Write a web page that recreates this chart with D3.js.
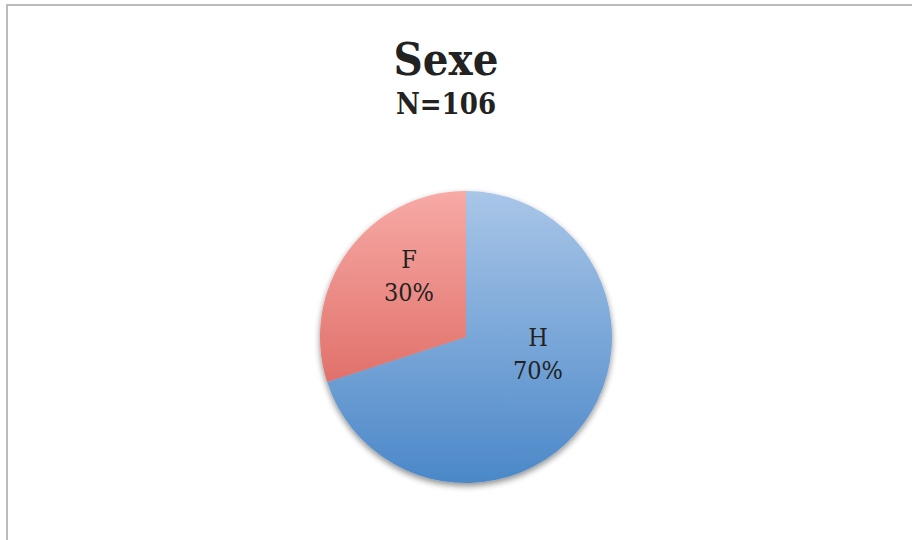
<!DOCTYPE html>
<html>
<head>
<meta charset="utf-8">
<script src="https://cdn.jsdelivr.net/npm/d3@7"></script>
<style>
  body { margin: 0; background: #fff; }
  svg { display: block; }
  text { font-family: "DejaVu Serif", "Liberation Serif", serif; font-stretch: condensed; fill: #222; }
</style>
</head>
<body>
<svg class="chart" width="916" height="540"></svg>
<script>
// data
const categories = ['H', 'F'];
const shares = [70, 30];
const title = 'Sexe';
const subtitle = 'N=106';

const width = 916, height = 540;
const center = { x: 466, y: 337 };
const radius = 146;

// light (top) / dark (bottom) gradient stops per slice
const sliceColors = {
  H: ['#a9c6e8', '#4b88c8'],
  F: ['#f7aaa6', '#d5524a']
};
// excel "best fit" labels sit off the centroid a bit
const labelNudge = { H: [3.5, -34], F: [11.5, -12] };

const svg = d3.select('.chart');
const defs = svg.append('defs');

// frame: only top and left edges show
svg.append('path')
  .attr('d', 'M7,540 V5 H912')
  .attr('fill', 'none')
  .attr('stroke', '#a6a6a6')
  .attr('stroke-width', 1.5);

svg.append('text')
  .attr('x', 446)
  .attr('y', 75)
  .attr('text-anchor', 'middle')
  .style('font-size', '45px')
  .style('font-weight', 'bold')
  .text(title);

svg.append('text')
  .attr('x', 446)
  .attr('y', 114)
  .attr('text-anchor', 'middle')
  .style('font-size', '29px')
  .style('font-weight', 'bold')
  .text(subtitle);

// gradients span the whole pie box, top to bottom
categories.forEach((c) => {
  const g = defs.append('linearGradient')
    .attr('id', 'grad-' + c)
    .attr('gradientUnits', 'userSpaceOnUse')
    .attr('x1', 0).attr('y1', -radius)
    .attr('x2', 0).attr('y2', radius);
  g.append('stop').attr('offset', '0%').attr('stop-color', sliceColors[c][0]);
  g.append('stop').attr('offset', '100%').attr('stop-color', sliceColors[c][1]);
});

const shadow = defs.append('filter')
  .attr('id', 'shadow')
  .attr('x', '-20%').attr('y', '-20%')
  .attr('width', '140%').attr('height', '140%');
shadow.append('feGaussianBlur').attr('in', 'SourceAlpha').attr('stdDeviation', 3);
shadow.append('feOffset').attr('dx', 0).attr('dy', 3).attr('result', 'blur');
shadow.append('feComponentTransfer').append('feFuncA').attr('type', 'linear').attr('slope', 0.45);
const merge = shadow.append('feMerge');
merge.append('feMergeNode');
merge.append('feMergeNode').attr('in', 'SourceGraphic');

const pieData = categories.map((c, i) => ({ name: c, value: shares[i] }));
const pie = d3.pie().sort(null).value((d) => d.value);
const arc = d3.arc().innerRadius(0).outerRadius(radius);
const labelArc = d3.arc().innerRadius(radius * 0.58).outerRadius(radius * 0.58);

const pieElem = svg.append('g')
  .attr('transform', 'translate(' + center.x + ',' + center.y + ')');

pieElem.append('g')
  .attr('filter', 'url(#shadow)')
  .selectAll('path')
  .data(pie(pieData))
  .enter()
  .append('path')
  .attr('d', arc)
  .attr('fill', (d) => 'url(#grad-' + d.data.name + ')');

const labels = pieElem.selectAll('.slice-label')
  .data(pie(pieData))
  .enter()
  .append('text')
  .attr('class', 'slice-label')
  .attr('text-anchor', 'middle')
  .attr('transform', (d) => {
    const c = labelArc.centroid(d);
    const n = labelNudge[d.data.name];
    return 'translate(' + (c[0] + n[0]) + ',' + (c[1] + n[1]) + ')';
  })
  .style('font-size', '25px');

labels.append('tspan').attr('x', 0).attr('y', -7).text((d) => d.data.name);
labels.append('tspan').attr('x', 0).attr('y', 26).text((d) => d.data.value + '%');
</script>
</body>
</html>
